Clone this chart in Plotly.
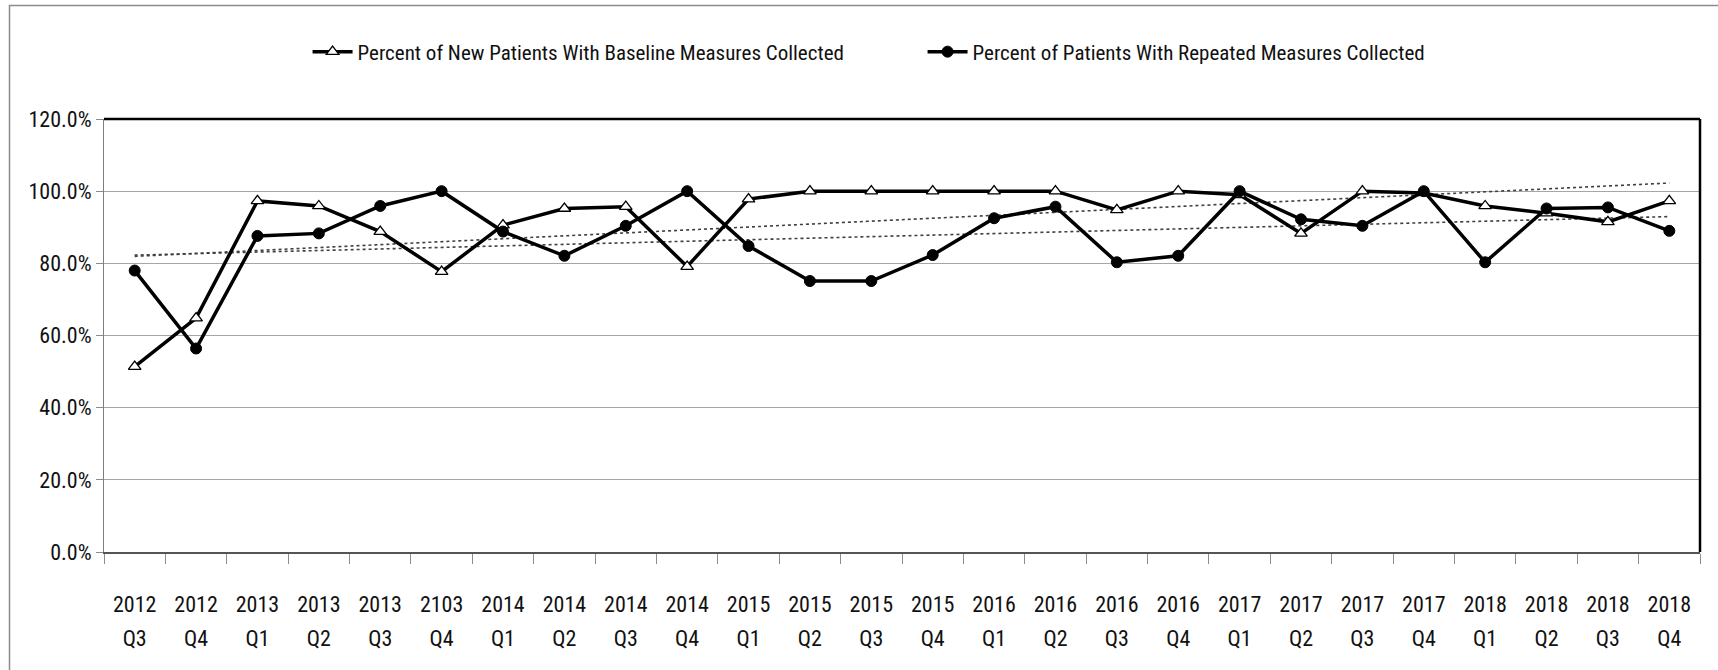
import plotly.graph_objects as go
import numpy as np

years = ["2012", "2012", "2013", "2013", "2013", "2103", "2014", "2014", "2014", "2014",
         "2015", "2015", "2015", "2015", "2016", "2016", "2016", "2016", "2017", "2017",
         "2017", "2017", "2018", "2018", "2018", "2018"]
quarters = ["Q3", "Q4", "Q1", "Q2", "Q3", "Q4", "Q1", "Q2", "Q3", "Q4",
            "Q1", "Q2", "Q3", "Q4", "Q1", "Q2", "Q3", "Q4", "Q1", "Q2",
            "Q3", "Q4", "Q1", "Q2", "Q3", "Q4"]
periods = [f"{y} {q}" for y, q in zip(years, quarters)]

baseline = [51.4, 64.8, 97.3, 95.9, 88.8, 77.7, 90.6, 95.2, 95.7, 79.1,
            97.8, 100.0, 100.0, 100.0, 100.0, 100.0, 94.8, 100.0, 99.0, 88.3,
            100.0, 99.5, 95.9, 93.9, 91.5, 97.3]
repeated = [78.0, 56.4, 87.6, 88.3, 95.9, 100.0, 88.8, 82.1, 90.4, 100.0,
            84.8, 75.1, 75.1, 82.3, 92.5, 95.7, 80.3, 82.1, 100.0, 92.2,
            90.4, 100.0, 80.3, 95.2, 95.5, 89.0]

y_ticks = [0, 20, 40, 60, 80, 100, 120]
y_tick_labels = ["0.0%", "20.0%", "40.0%", "60.0%", "80.0%", "100.0%", "120.0%"]

name_base = "Percent of New Patients With Baseline Measures Collected"
name_rep = "Percent of Patients With Repeated Measures Collected"

FONT = "Liberation Sans Narrow, Arial Narrow, Roboto Condensed, Liberation Sans, sans-serif"

idx = np.arange(len(periods))
fit_b = np.polyval(np.polyfit(idx, baseline, 1), idx)
fit_r = np.polyval(np.polyfit(idx, repeated, 1), idx)

fig = go.Figure()
for fit in (fit_b, fit_r):
    fig.add_trace(go.Scatter(x=periods, y=fit, mode="lines", showlegend=False,
                             hoverinfo="skip",
                             line=dict(color="#404040", width=1.6, dash="dot")))

fig.add_trace(go.Scatter(
    x=periods, y=baseline, name=name_base, mode="lines+markers",
    line=dict(color="black", width=3.5),
    marker=dict(symbol="triangle-up", size=11, color="white",
                line=dict(color="black", width=1.3))))
fig.add_trace(go.Scatter(
    x=periods, y=repeated, name=name_rep, mode="lines+markers",
    line=dict(color="black", width=3.5),
    marker=dict(symbol="circle", size=11, color="black",
                line=dict(color="black", width=1))))

# invisible trace on the secondary x axis carrying the quarter labels
fig.add_trace(go.Scatter(x=[], y=[], xaxis="x2", showlegend=False, hoverinfo="skip"))

fig.update_layout(
    width=1718, height=670,
    margin=dict(l=104, r=18, t=119, b=118),
    paper_bgcolor="white", plot_bgcolor="white",
    font=dict(family=FONT, size=22, color="#111111"),
    legend=dict(orientation="h", xref="container", yref="container",
                x=0.537, y=1 - 52 / 670, xanchor="center", yanchor="middle",
                font=dict(size=21), itemwidth=40, entrywidth=560),
    xaxis=dict(type="category", categoryorder="array", categoryarray=periods,
               range=[-0.5, len(periods) - 0.5],
               tickvals=periods, ticktext=years, tickson="boundaries",
               ticks="outside", ticklen=10, tickcolor="#8c8c8c", tickwidth=1,
               showgrid=False, showline=True, linecolor="#555555", linewidth=2,
               ticklabelstandoff=32, tickfont=dict(size=22)),
    xaxis2=dict(type="linear", overlaying="x", anchor="y", side="bottom",
                range=[-0.5, len(periods) - 0.5], tickvals=list(range(len(periods))),
                ticktext=quarters, ticks="", showgrid=False, showline=False,
                zeroline=False, ticklabelstandoff=71, tickfont=dict(size=22)),
    yaxis=dict(range=[0, 120], tickvals=y_ticks, ticktext=y_tick_labels,
               ticks="outside", ticklen=7,
               tickcolor="#8c8c8c", showgrid=True, gridcolor="#a6a6a6", gridwidth=1,
               zeroline=False, showline=True, linecolor="#7f7f7f", linewidth=1,
               tickfont=dict(size=22)),
)

# plot-area border (top and right in black) and chart-area border
fig.add_shape(type="line", xref="paper", yref="paper", x0=0, x1=1, y0=1, y1=1,
              line=dict(color="black", width=2.5))
fig.add_shape(type="line", xref="paper", yref="paper", x0=1, x1=1, y0=0, y1=1,
              line=dict(color="black", width=2.5))
fig.add_shape(type="rect", xref="paper", yref="paper",
              x0=(9.5 - 104) / 1596, x1=1.1, y0=-0.4, y1=1 + (119 - 5.5) / 433,
              line=dict(color="#8c8c8c", width=1.5))

fig.write_html("out.html")
